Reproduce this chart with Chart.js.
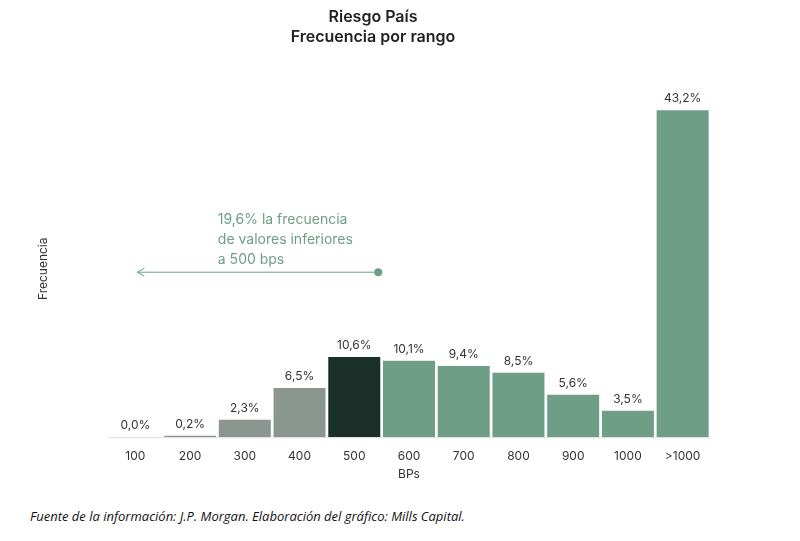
<!DOCTYPE html>
<html>
<head>
<meta charset="utf-8">
<script src="https://cdn.jsdelivr.net/npm/chart.js@4"></script>
<style>
  body { margin: 0; background: #fff; }
  #wrap { width: 800px; height: 500px; position: relative; }
  #src { position: absolute; left: 30px; top: 507px; font: italic 13px "Open Sans", sans-serif; color: #111; }
</style>
</head>
<body>
<div id="wrap"><canvas id="riesgo"></canvas></div>
<div id="src">Fuente de la información: J.P. Morgan. Elaboración del gráfico: Mills Capital.</div>
<script>
const labels = ["100", "200", "300", "400", "500", "600", "700", "800", "900", "1000", ">1000"];
const data = [0.0, 0.2, 2.3, 6.5, 10.6, 10.1, 9.4, 8.5, 5.6, 3.5, 43.2];

const gris = "#8c9690", oscuro = "#1b2f29", verde = "#6e9e86";
const colores = data.map((v, i) => (i < 4 ? gris : i === 4 ? oscuro : verde));

// etiquetas de valor y flecha con el texto
const extras = {
  id: "extras",
  afterDatasetsDraw(chart) {
    const ctx = chart.ctx;
    const meta = chart.getDatasetMeta(0);
    ctx.save();
    ctx.font = "12px Inter, sans-serif";
    ctx.fillStyle = "#333";
    ctx.textAlign = "center";
    meta.data.forEach((bar, i) => {
      ctx.fillText(data[i].toFixed(1).replace(".", ",") + "%", bar.x, bar.y - 8);
    });
    // baseline
    const a = chart.chartArea;
    const y0 = chart.scales.y.getPixelForValue(0);
    ctx.strokeStyle = "#ddd";
    ctx.lineWidth = 1;
    ctx.beginPath(); ctx.moveTo(a.left, y0 + 0.5); ctx.lineTo(a.right, y0 + 0.5); ctx.stroke();
    // flecha
    const x = chart.scales.x;
    const x1 = x.getPixelForValue(0) + 2;
    const x2 = x.getPixelForValue(4) + 24;
    const yf = chart.scales.y.getPixelForValue(21.8);
    ctx.strokeStyle = verde; ctx.fillStyle = verde;
    ctx.beginPath(); ctx.moveTo(x1, yf); ctx.lineTo(x2, yf); ctx.stroke();
    ctx.beginPath(); ctx.arc(x2, yf, 4, 0, Math.PI * 2); ctx.fill();
    ctx.beginPath(); ctx.moveTo(x1 + 7, yf - 4); ctx.lineTo(x1, yf); ctx.lineTo(x1 + 7, yf + 4); ctx.stroke();
    ctx.font = "14px Inter, sans-serif";
    ctx.textAlign = "left";
    const tx = x.getPixelForValue(2) - 27;
    ["19,6% la frecuencia", "de valores inferiores", "a 500 bps"].forEach((t, i) => {
      ctx.fillText(t, tx, yf - 48 + i * 20);
    });
    ctx.restore();
  }
};

new Chart(document.getElementById("riesgo"), {
  type: "bar",
  data: {
    labels: labels,
    datasets: [{ label: "Frecuencia", data: data, backgroundColor: colores, barPercentage: 0.95, categoryPercentage: 1 }]
  },
  options: {
    responsive: true,
    maintainAspectRatio: false,
    animation: false,
    layout: { padding: { left: 36, right: 90, top: 4, bottom: 18 } },
    plugins: {
      legend: { display: false },
      tooltip: { enabled: false },
      title: {
        display: true,
        text: ["Riesgo País", "Frecuencia por rango"],
        color: "#222",
        font: { family: "Inter, sans-serif", size: 16, weight: "600" },
        padding: { top: 4, bottom: 54 }
      }
    },
    scales: {
      x: {
        grid: { display: false },
        border: { display: false },
        ticks: { color: "#333", font: { family: "Inter, sans-serif", size: 12 }, padding: 4 },
        title: { display: true, text: "BPs", color: "#333", font: { family: "Inter, sans-serif", size: 12 }, padding: 0 }
      },
      y: {
        min: 0, max: 44.5,
        grid: { display: false },
        border: { display: false },
        ticks: { display: false },
        afterFit: s => { s.width = 72; },
        title: { display: true, text: "Frecuencia", color: "#333", font: { family: "Inter, sans-serif", size: 12 }, padding: 0 }
      }
    }
  },
  plugins: [extras]
});
</script>
</body>
</html>
